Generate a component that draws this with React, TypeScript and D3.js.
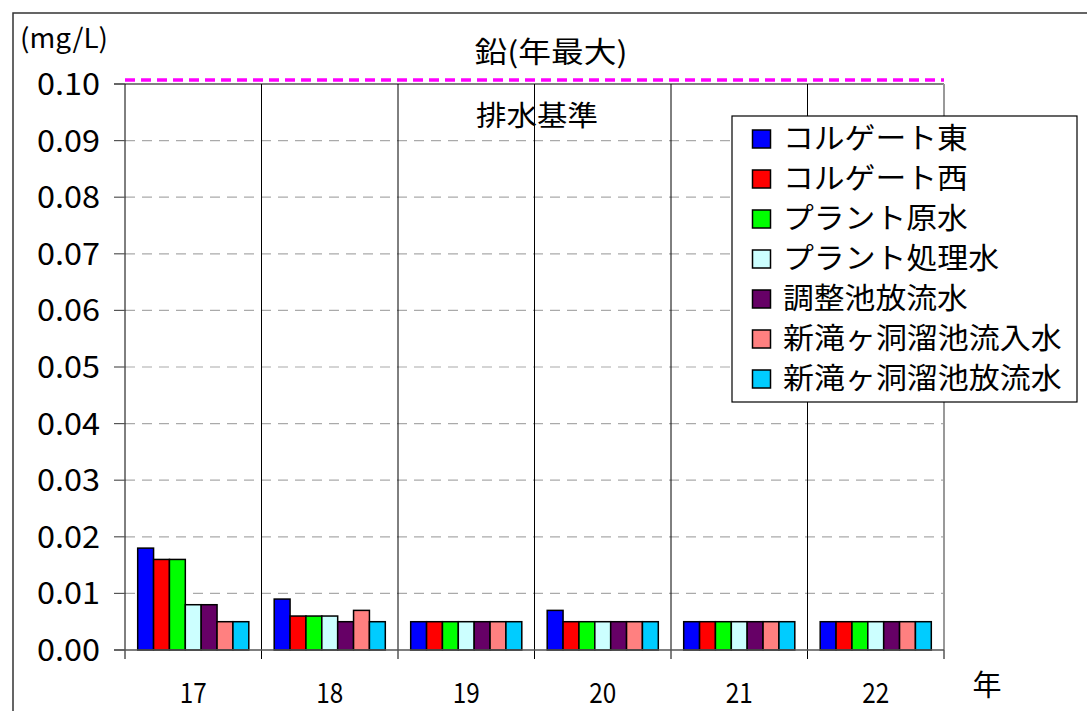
import React from "react";
import * as d3 from "d3";

// Survey years (Heisei)
const years = ["17", "18", "19", "20", "21", "22"];

// Sampling points
const seriesNames = [
  "コルゲート東",
  "コルゲート西",
  "プラント原水",
  "プラント処理水",
  "調整池放流水",
  "新滝ヶ洞溜池流入水",
  "新滝ヶ洞溜池放流水",
];

const seriesColors = ["#0000ff", "#ff0000", "#00ff00", "#ccffff", "#660066", "#ff8080", "#00ccff"];

// Annual maximum lead concentration (mg/L), one array per sampling point
const corrugateEast = [0.018, 0.009, 0.005, 0.007, 0.005, 0.005];
const corrugateWest = [0.016, 0.006, 0.005, 0.005, 0.005, 0.005];
const plantRaw = [0.016, 0.006, 0.005, 0.005, 0.005, 0.005];
const plantTreated = [0.008, 0.006, 0.005, 0.005, 0.005, 0.005];
const pondOutflow = [0.008, 0.005, 0.005, 0.005, 0.005, 0.005];
const reservoirInflow = [0.005, 0.007, 0.005, 0.005, 0.005, 0.005];
const reservoirOutflow = [0.005, 0.005, 0.005, 0.005, 0.005, 0.005];

const seriesValues = [
  corrugateEast,
  corrugateWest,
  plantRaw,
  plantTreated,
  pondOutflow,
  reservoirInflow,
  reservoirOutflow,
];

// Effluent standard
const standardValue = 0.1;

const yTicks = [0, 0.01, 0.02, 0.03, 0.04, 0.05, 0.06, 0.07, 0.08, 0.09, 0.1];

const W = 1087;
const H = 711;
const plot = { left: 125, right: 944, top: 84, bottom: 650 };
const FONT = "'Noto Sans CJK JP', 'Noto Sans', sans-serif";

export default function App() {
  const x0 = d3.scaleBand<string>().domain(years).range([plot.left, plot.right]).paddingInner(0).paddingOuter(0);
  const x1 = d3
    .scaleBand<number>()
    .domain(d3.range(seriesNames.length))
    .range([0, x0.bandwidth()])
    .paddingInner(0)
    .paddingOuter(0.8);
  const y = d3.scaleLinear().domain([0, 0.1]).range([plot.bottom, plot.top]);
  const fmt = d3.format(".2f");

  const boundaries = years.map((yr) => x0(yr) as number).concat([plot.right]);

  return (
    <svg
      width={W}
      height={H}
      style={{ position: "fixed", left: 0, top: 0, background: "#fff" }}
      fontFamily={FONT}
    >
      <rect x={0} y={0} width={W} height={H} fill="#fff" />
      {/* outer chart frame */}
      <rect x={13} y={13} width={W + 20} height={H + 20} fill="none" stroke="#333" strokeWidth={1.5} />

      {/* unit */}
      <text x={20} y={48} fontSize={27} textLength={88} lengthAdjust="spacingAndGlyphs" fill="#000">
        (mg/L)
      </text>

      {/* title */}
      <text x={551} y={63} fontSize={29} textAnchor="middle" textLength={153} lengthAdjust="spacingAndGlyphs" fill="#000">
        鉛(年最大)
      </text>

      {/* horizontal gridlines */}
      {yTicks
        .filter((t) => t > 0 && t < 0.1)
        .map((t) => (
          <line
            key={"g" + t}
            x1={plot.left}
            x2={plot.right}
            y1={y(t)}
            y2={y(t)}
            stroke="#aaa"
            strokeWidth={1.2}
            strokeDasharray="10,7"
          />
        ))}

      {/* plot-area border, top and right */}
      <line x1={114} x2={plot.right} y1={plot.top} y2={plot.top} stroke="#808080" strokeWidth={2} />
      <line x1={plot.right} x2={plot.right} y1={plot.top} y2={plot.bottom} stroke="#999" strokeWidth={2} />

      {/* category separators with ticks */}
      {boundaries.slice(0, -1).map((bx, i) => (
        <line key={"s" + i} x1={bx} x2={bx} y1={plot.top} y2={plot.bottom + 9} stroke="#000" strokeWidth={1} />
      ))}
      <line x1={plot.right} x2={plot.right} y1={plot.bottom} y2={plot.bottom + 9} stroke="#000" strokeWidth={1} />

      {/* y-axis ticks */}
      {yTicks.map((t) => (
        <line key={"t" + t} x1={114} x2={plot.left} y1={y(t)} y2={y(t)} stroke="#555" strokeWidth={1.2} />
      ))}

      {/* y tick labels */}
      {yTicks.map((t) => (
        <text
          key={"l" + t}
          x={100}
          y={y(t) + 11}
          fontSize={30}
          textAnchor="end"
          textLength={63}
          lengthAdjust="spacingAndGlyphs"
          fill="#000"
        >
          {fmt(t)}
        </text>
      ))}

      {/* bars */}
      {years.map((yr, ci) => (
        <g key={"c" + yr} transform={`translate(${x0(yr)},0)`}>
          {seriesValues.map((vals, si) => (
            <rect
              key={si}
              x={x1(si)}
              y={y(vals[ci])}
              width={x1.bandwidth()}
              height={y(0) - y(vals[ci])}
              fill={seriesColors[si]}
              stroke="#000"
              strokeWidth={1.5}
            />
          ))}
        </g>
      ))}

      {/* x axis line */}
      <line x1={114} x2={plot.right} y1={plot.bottom} y2={plot.bottom} stroke="#555" strokeWidth={1.5} />

      {/* x labels */}
      {years.map((yr) => (
        <text
          key={"x" + yr}
          x={(x0(yr) as number) + x0.bandwidth() / 2}
          y={703}
          fontSize={28}
          textAnchor="middle"
          textLength={27}
          lengthAdjust="spacingAndGlyphs"
          fill="#000"
        >
          {yr}
        </text>
      ))}
      <text x={987} y={696} fontSize={29} textAnchor="middle" fill="#000">
        年
      </text>

      {/* effluent standard line */}
      <line
        x1={plot.left}
        x2={plot.right}
        y1={y(standardValue) - 4}
        y2={y(standardValue) - 4}
        stroke="#ff00ff"
        strokeWidth={3.5}
        strokeDasharray="10,6"
      />
      <text x={537} y={126} fontSize={28} textAnchor="middle" textLength={122} lengthAdjust="spacingAndGlyphs" fill="#000">
        排水基準
      </text>

      {/* legend */}
      <g>
        <rect x={732} y={116} width={345} height={286} fill="#fff" stroke="#000" strokeWidth={1.2} />
        {seriesNames.map((name, i) => {
          const cy = 139 + i * 40;
          return (
            <g key={"lg" + i}>
              <rect x={752.5} y={cy - 9} width={18} height={18} fill={seriesColors[i]} stroke="#000" strokeWidth={1.5} />
              <text
                x={783}
                y={cy + 10}
                fontSize={29}
                textLength={name.length * 31.3 - 3}
                lengthAdjust="spacingAndGlyphs"
                fill="#000"
              >
                {name}
              </text>
            </g>
          );
        })}
      </g>
    </svg>
  );
}
